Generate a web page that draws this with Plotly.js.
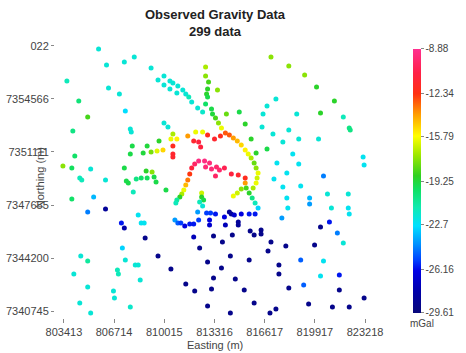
<!DOCTYPE html>
<html>
<head>
<meta charset="utf-8">
<script src="https://cdn.plot.ly/plotly-3.0.1.min.js"></script>
<style>
  html, body { margin: 0; padding: 0; background: #fff; }
  #chart { width: 466px; height: 353px; }
</style>
</head>
<body>
<div id="chart"></div>
<script>
// Gravity stations: easting (m), northing (m), observed gravity (mGal)
const easting = [
  805693, 806214, 807387, 808039, 809146, 803608, 806345, 807061, 804390, 807452,
  804977, 803999, 807778, 807843, 807908, 808886, 807778, 808625, 809146, 809537,
  809928, 809667, 804130, 803348, 803934, 805172, 807387, 808820, 809211, 809342,
  809472, 804455, 804586, 806149, 807517, 807648, 808169, 808495, 808886, 807974,
  803934, 805368, 804977, 806149, 808299, 808495, 808690, 807192, 807387, 808755,
  807257, 804521, 804977, 807452, 808104, 808299, 806931, 806996, 804065, 808430,
  804977, 806671, 806736, 804455, 805172, 807778,
  809993, 810254, 810580, 810449, 810840, 810580, 810580, 810580, 811557, 812078,
  812534, 811948, 812273, 812404, 812860, 813316, 813707,
  809602, 809993, 809993, 810384, 810580, 810384, 810905, 810840, 811231, 811426,
  811622, 811817, 812208, 812534,
  812729, 812729, 812925, 812860, 812795, 812860, 812729, 813511, 813120, 813186,
  813381, 813576, 813772, 814032, 814293, 814554, 814814, 815075, 815335, 815531,
  815726, 815922, 816052, 816182, 816117, 816052,
  815335, 815075, 814814, 814554, 815401, 815596, 815792, 815987, 816182, 815857,
  811687, 811817, 812013, 812273, 812664, 812990, 812729, 813120, 813446, 813642,
  813967, 813381, 814423, 814879, 815335,
  811557, 811426, 811296, 811166, 811036, 810840, 810775, 812469, 812469, 812599,
  812339, 812534, 812208, 810123,
  810710, 810905, 811101, 811361, 811687, 811948, 812273, 812795, 813055, 813381,
  812990, 812990, 811948, 813251, 813967, 814032, 814293, 814423, 814619, 815075,
  815596, 815987, 814879, 814879, 814489, 815661, 815922, 816378, 816378, 817029,
  813837, 812339, 812860, 813251, 813120, 812860, 814358, 813772, 814684, 815270,
  814358, 815922, 815596, 816834, 818007, 817551, 817551, 818202, 816964, 817355,
  818984, 820482, 819896, 821785, 820287, 821525, 819179, 821525, 819505, 821069,
  822176, 823153, 809602, 810449, 811426, 812013, 820287, 820873, 821394,
  817746, 817811, 818984, 818072, 819570, 819570, 820743, 822111, 818137, 821004,
  822111, 822176, 820482, 817225, 818072, 817420, 818854, 818463, 816769, 816052,
  815726, 815335, 814945, 814098, 816443, 817160, 818202, 818854, 820157, 817811,
  817355, 816769, 816508, 818723, 817029, 818202, 819244, 820026, 821199, 820287,
  821785, 822176, 822241, 823088, 823153
];
const northing = [
  7357825, 7356782, 7356977, 7357303, 7356586, 7355739, 7355282, 7354891, 7354435, 7353783,
  7353392, 7352479, 7352610, 7352414, 7351501, 7351501, 7350980, 7351045, 7351110, 7351175,
  7351241, 7351827, 7350849, 7350198, 7350067, 7350002, 7350067, 7349872, 7349806, 7349480,
  7349155, 7349415, 7349285, 7349285, 7349220, 7349089, 7349350, 7349415, 7349415, 7348503,
  7348046, 7348177, 7347199, 7347394, 7347003, 7346482, 7346482, 7346482, 7346156, 7345504,
  7344852, 7344330, 7344005, 7344070, 7343744, 7343744, 7343418, 7343157, 7343157, 7342766,
  7342310, 7342049, 7341592, 7341267, 7340615, 7341006,
  7353001, 7352740, 7352284, 7351958, 7351958, 7351501, 7350980, 7350784, 7352153, 7352414,
  7352414, 7351827, 7351762, 7351436, 7352218, 7351958, 7352153,
  7355804, 7356065, 7355478, 7355739, 7355608, 7355217, 7355413, 7354956, 7355152, 7354891,
  7354696, 7354370, 7353979, 7353718,
  7356651, 7356065, 7355674, 7355217, 7354891, 7354696, 7354239, 7355152, 7353913, 7353587,
  7353327, 7353001, 7352675, 7352349, 7352218, 7352023, 7351827, 7351567, 7351241, 7350980,
  7350719, 7350393, 7350067, 7349741, 7349415, 7349089,
  7349089, 7348698, 7348437, 7348242, 7348763, 7348437, 7348111, 7347786, 7347460, 7348763,
  7349676, 7350067, 7350328, 7350524, 7350524, 7350393, 7350132, 7350002, 7350132, 7349937,
  7350067, 7349546, 7349676, 7349611, 7349415,
  7349285, 7348959, 7348633, 7348372, 7348177, 7347981, 7347786, 7348437, 7348177, 7347981,
  7347851, 7347590, 7347199, 7348633,
  7346677, 7346482, 7346482, 7346286, 7346417, 7346417, 7346677, 7347134, 7347134, 7347068,
  7346677, 7346351, 7345569, 7345634, 7346873, 7346351, 7347199, 7347068, 7347003, 7347068,
  7347068, 7347068, 7346547, 7346351, 7345699, 7345960, 7345699, 7346025, 7345765, 7345243,
  7345243, 7344852, 7343939, 7342896, 7342179, 7341071, 7344330, 7343548, 7342831, 7342114,
  7340615, 7341267, 7344070, 7344656, 7344982, 7343744, 7343157, 7342244, 7340615, 7340875,
  7344070, 7344005, 7345048, 7345178, 7343027, 7343092, 7342440, 7342114, 7341201, 7341006,
  7341006, 7341592, 7344330, 7343483, 7342505, 7342049, 7346221, 7346547, 7345830,
  7346808, 7348829, 7348894, 7348111, 7348111, 7347720, 7348372, 7348372, 7347460, 7347460,
  7347460, 7347068, 7349546, 7349350, 7349741, 7350393, 7350328, 7350980, 7351306, 7351045,
  7351958, 7352936, 7353718, 7353587, 7352740, 7352284, 7352544, 7351958, 7351958, 7351762,
  7354565, 7354109, 7353587, 7353587, 7357303, 7356717, 7356130, 7355348, 7354435, 7353653,
  7353392, 7352675, 7352544, 7350784, 7350263
];
const gravity = [
  -22.0, -22.0, -22.0, -22.0, -22.0, -21.5, -22.0, -22.0, -20.3, -22.8,
  -18.5, -20.5, -22.0, -22.0, -19.5, -19.3, -19.5, -19.3, -17.8, -16.2,
  -15.0, -19.0, -20.0, -17.5, -19.8, -22.0, -19.5, -19.0, -17.5, -19.5,
  -19.5, -21.5, -21.5, -22.0, -19.5, -19.5, -20.5, -20.0, -19.8, -21.5,
  -20.0, -23.5, -24.5, -28.5, -22.5, -22.5, -22.5, -26.0, -28.0, -29.0,
  -23.0, -22.0, -21.0, -22.0, -22.0, -22.0, -21.5, -21.5, -22.0, -22.0,
  -22.0, -22.0, -22.0, -22.0, -22.0, -21.8,
  -22.0, -22.0, -17.0, -16.0, -15.5, -12.0, -11.5, -11.5, -14.0, -16.0,
  -16.0, -11.5, -11.0, -11.0, -12.0, -11.5, -12.0,
  -22.0, -22.0, -22.0, -22.0, -22.0, -22.0, -22.0, -22.0, -22.0, -22.0,
  -21.5, -22.0, -22.0, -21.8,
  -17.0, -17.5, -18.5, -19.0, -19.0, -19.5, -20.0, -17.5, -19.5, -19.3,
  -18.5, -17.5, -16.0, -13.0, -13.0, -14.0, -14.5, -15.0, -15.5, -16.0,
  -17.0, -18.0, -17.5, -16.0, -16.5, -16.0,
  -14.0, -17.5, -16.5, -16.0, -18.5, -19.0, -20.5, -21.5, -23.0, -17.0,
  -12.5, -11.0, -10.0, -9.3, -9.3, -9.5, -9.5, -9.5, -9.8, -9.8,
  -10.5, -10.0, -11.0, -11.5, -12.0,
  -13.5, -14.5, -16.0, -17.0, -19.0, -21.0, -21.5, -16.5, -19.0, -19.5,
  -21.5, -22.0, -24.0, -19.5,
  -24.0, -25.0, -25.5, -26.5, -26.0, -26.0, -25.5, -25.5, -25.5, -26.0,
  -26.5, -27.0, -27.5, -29.0, -26.5, -27.5, -28.5, -28.5, -27.0, -26.5,
  -26.0, -26.0, -28.5, -28.5, -29.0, -29.0, -29.0, -29.0, -29.0, -29.0,
  -29.0, -29.0, -29.0, -29.0, -29.0, -29.0, -29.0, -29.0, -29.0, -29.0,
  -29.0, -29.0, -29.0, -29.0, -29.0, -29.0, -29.0, -29.0, -29.0, -29.0,
  -25.0, -22.5, -29.0, -22.0, -22.5, -26.0, -25.0, -29.0, -29.0, -29.0,
  -29.0, -29.0, -29.0, -29.0, -29.0, -29.0, -29.0, -26.0, -24.5,
  -24.0, -22.5, -22.5, -22.5, -23.5, -24.0, -22.0, -22.0, -22.5, -22.0,
  -22.5, -22.5, -24.5, -22.5, -22.5, -22.5, -22.5, -22.5, -19.5, -19.0,
  -19.0, -19.0, -19.5, -18.0, -22.0, -22.0, -22.0, -22.0, -22.0, -22.0,
  -22.0, -22.0, -22.0, -22.0, -17.5, -17.5, -17.5, -19.0, -19.0, -19.0,
  -21.5, -20.5, -20.5, -22.5, -22.5
];

// Axis ticks
const xTickVals = [803413, 806714, 810015, 813316, 816617, 819917, 823218];
const yTickVals = [7340745, 7344200, 7347655, 7351111, 7354566, 7358022];
const yTickText = ['7340745', '7344200', '7347655', '7351111', '7354566', '022'];
const cbTickVals = [-8.88, -12.34, -15.79, -19.25, -22.7, -26.16, -29.61];
const cbTickText = ['-8.88', '-12.34', '-15.79', '-19.25', '-22.7', '-26.16', '-29.61'];
const gMin = -29.61, gMax = -8.88;

const FONT = 'Liberation Sans, Arial, Helvetica, sans-serif';

const colorscale = [
  [0.00, '#08087a'], [0.08, '#0000a8'], [0.16, '#0000e6'], [0.20, '#0040ff'],
  [0.26, '#0090ff'], [0.33, '#00e0ff'], [0.40, '#10eab0'], [0.47, '#10e060'],
  [0.52, '#30d020'], [0.60, '#a0e800'], [0.67, '#ffff00'], [0.75, '#ffa000'],
  [0.83, '#ff3010'], [0.91, '#ff2048'], [1.00, '#ff3090']
];

const trace = {
  type: 'scatter',
  mode: 'markers',
  x: easting,
  y: northing,
  marker: {
    size: 5,
    color: gravity,
    cmin: gMin,
    cmax: gMax,
    colorscale: colorscale,
    line: { width: 0 },
    colorbar: {
      x: 1.1176, xanchor: 'left', xpad: 0,
      y: 0.4964, yanchor: 'middle', ypad: 0,
      len: 264, lenmode: 'pixels',
      thickness: 8, thicknessmode: 'pixels',
      outlinewidth: 0,
      tickmode: 'array', tickvals: cbTickVals, ticktext: cbTickText,
      ticks: 'outside', ticklen: 3, tickcolor: '#888',
      tickfont: { family: FONT, size: 10, color: '#444' }
    }
  },
  hoverinfo: 'x+y'
};

const layout = {
  width: 466, height: 353,
  margin: { l: 55, r: 88, t: 42, b: 35 },
  paper_bgcolor: '#fff', plot_bgcolor: '#fff',
  showlegend: false,
  title: {
    text: '<b>Observed Gravity Data</b><br><b>299 data</b>',
    font: { family: FONT, size: 13, color: '#222' },
    x: 0.5, xref: 'paper', xanchor: 'center',
    y: 0.945, yanchor: 'middle'
  },
  xaxis: {
    range: [802827, 823870],
    showgrid: false, zeroline: false, showline: false,
    tickmode: 'array', tickvals: xTickVals,
    ticktext: xTickVals.map(String),
    ticks: 'outside', ticklen: 4, tickcolor: '#888',
    tickfont: { family: FONT, size: 11, color: '#444' }
  },
  yaxis: {
    range: [7340289, 7358281],
    showgrid: false, zeroline: false, showline: false,
    tickmode: 'array', tickvals: yTickVals, ticktext: yTickText,
    ticks: 'outside', ticklen: 3, tickcolor: '#888',
    tickfont: { family: FONT, size: 11, color: '#444' }
  },
  annotations: [
    { text: 'Easting (m)', xref: 'paper', yref: 'paper', x: 0.4985, y: -0.0978,
      xanchor: 'center', yanchor: 'middle', showarrow: false,
      font: { family: FONT, size: 11, color: '#444' } },
    { text: 'Northing (m)', xref: 'paper', yref: 'paper', x: -0.0464, y: 0.507,
      xanchor: 'center', yanchor: 'middle', showarrow: false, textangle: -90,
      font: { family: FONT, size: 11, color: '#444' } },
    { text: 'mGal', xref: 'paper', yref: 'paper', x: 1.1455, y: -0.0217,
      xanchor: 'center', yanchor: 'middle', showarrow: false,
      font: { family: FONT, size: 10, color: '#444' } }
  ]
};

Plotly.newPlot('chart', [trace], layout, { displayModeBar: false, staticPlot: true });
</script>
</body>
</html>
